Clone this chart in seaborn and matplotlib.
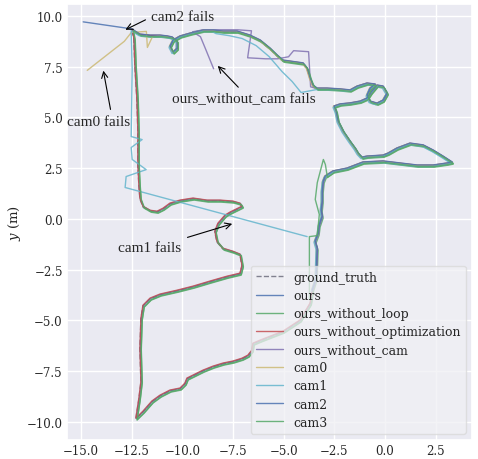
import matplotlib
matplotlib.use("Agg")
import matplotlib.pyplot as plt
import seaborn as sns
import pandas as pd

# ---------------- data (metres) ----------------
# ground-truth path split into segments, in travel order
seg_start = [(-3.60,-3.55),(-3.41,-2.96),(-3.36,-1.48),(-3.46,-1.13),(-3.31,-0.74),(-3.26,-0.34),
             (-3.11,0.10),(-3.16,0.39),(-3.11,0.84),(-3.11,1.33),(-3.06,1.82),(-2.96,2.07),
             (-2.57,2.32),(-1.88,2.46),(-1.09,2.76),(-0.10,2.81),(0.74,2.71),(1.58,2.61),
             (2.37,2.61),(3.06,2.71),(3.31,2.76),(2.86,3.05),(2.37,3.35),(1.88,3.60),
             (1.23,3.69),(0.59,3.45),(0.15,3.20),(-0.10,3.10),(-0.89,3.05),(-1.14,3.00),
             (-1.33,3.20),(-1.48,3.45),(-1.73,3.79),(-2.07,4.29),(-2.32,4.78),(-2.42,5.27),
             (-2.52,5.52),(-2.22,5.62),(-1.73,5.67),(-1.23,5.76),(-0.89,5.91),(-0.69,6.21),
             (-0.40,6.55),(-0.10,6.50),(0.10,6.16),(-0.10,5.81),(-0.40,5.66),(-0.74,5.76),
             (-0.89,6.06),(-0.74,6.40),(-0.49,6.60),(-0.89,6.65),(-1.38,6.50),(-1.73,6.31),
             (-2.22,6.36),(-2.86,6.40),(-3.36,6.40)]
seg_top = [(-3.56,6.55),(-3.70,6.90),(-3.85,7.39),(-4.05,7.64),(-4.69,7.73),(-5.04,7.78),
           (-5.33,8.03),(-5.68,8.37),(-6.17,8.77),(-6.67,9.01),(-7.31,9.21),(-8.00,9.21)]
seg_topleft = [(-8.49,9.26),(-8.99,9.26),(-9.63,9.11),(-10.12,8.97),(-10.47,8.77),(-10.62,8.47),
               (-10.47,8.18),(-10.27,8.37),(-10.27,8.72),(-10.52,8.92),(-10.77,8.97),(-11.11,9.01)]
seg_corner = [(-11.60,9.01),(-12.10,9.06),(-12.35,9.21),(-12.49,9.31)]
seg_left = [(-12.40,8.87),(-12.35,7.54),(-12.25,5.91),(-12.20,4.29),(-12.20,2.61),(-12.15,1.63),
            (-12.10,0.99)]
seg_lower = [(-11.95,0.59),(-11.60,0.39),(-11.26,0.34),(-10.96,0.49),(-10.62,0.74),(-10.12,0.89),
             (-9.48,0.99),(-8.79,0.89),(-8.15,0.89),(-7.51,0.84),(-7.16,0.74),(-7.06,0.59),
             (-7.36,0.44),(-7.65,0.30),(-7.90,0.15),(-8.25,-0.25),(-8.40,-0.64),(-8.30,-1.13),
             (-8.00,-1.48),(-7.51,-1.63),(-7.16,-1.77),(-7.06,-2.32),(-7.16,-2.71),(-7.80,-2.86),
             (-8.64,-3.10),(-9.48,-3.35),(-10.27,-3.55),(-11.11,-3.74),(-11.60,-3.94),(-11.95,-4.29),
             (-12.05,-4.93),(-12.10,-6.40),(-12.05,-8.03),(-12.15,-8.87),(-12.25,-9.51),(-12.30,-9.85),
             (-11.95,-9.51),(-11.51,-9.01),(-11.11,-8.72),(-10.62,-8.47),(-10.12,-8.37),(-9.88,-8.13),
             (-9.78,-7.88),(-9.48,-7.73),(-8.99,-7.49),(-8.49,-7.29),(-8.00,-7.14),(-7.51,-7.04),
             (-7.06,-6.90),(-6.77,-6.75),(-6.57,-6.50),(-6.52,-6.16),(-6.17,-6.01),(-5.04,-5.57),
             (-4.20,-5.02),(-3.70,-4.19),(-3.60,-3.55)]

# parts where single runs leave the path
cam0_tail = [(-11.45,8.95),(-11.70,8.42),(-11.75,9.21),(-12.49,9.16),(-12.84,8.72),(-14.67,7.29)]
cam1_top = [(-4.10,6.26),(-4.54,6.80),(-5.04,7.29),(-5.68,8.03),(-6.32,8.57),(-7.01,8.92),
            (-7.65,9.06),(-8.30,9.16)]
cam1_tail = [(-12.44,7.39),(-12.49,4.09),(-11.95,3.94),(-12.49,3.55),(-12.44,2.96),(-11.75,2.46),
             (-12.74,2.12),(-12.79,1.58),(-3.80,-0.84)]
cam2_tail = [(-14.91,9.66)]
cam3_head = [(-3.80,-3.94),(-3.80,-0.84),(-3.41,-0.79),(-3.31,0.25),(-3.51,0.99),(-3.41,1.82),
             (-3.11,2.96),(-3.01,2.71),(-2.91,2.07)]
nocam_tail = [(-3.70,6.50),(-3.80,8.23),(-4.54,8.28),(-4.79,7.98),(-5.33,7.88),(-5.93,7.88),
              (-6.81,7.93),(-6.62,9.26),(-7.31,9.31),(-8.15,9.31),(-8.99,9.31),(-9.53,9.21),
              (-9.14,8.97),(-8.89,8.37),(-8.49,7.39)]

# small drift of each estimate relative to ground truth (m)
drift = {"ground_truth": (0.0, 0.0), "ours": (0.02, 0.02), "ours_without_loop": (0.06, -0.06),
         "ours_without_optimization": (0.0, 0.04), "ours_without_cam": (0.03, 0.01),
         "cam0": (-0.03, 0.03), "cam1": (-0.04, -0.03), "cam2": (0.01, 0.05), "cam3": (0.07, -0.03)}

full = seg_start + seg_top + seg_topleft + seg_corner + seg_left + seg_lower
runs = {
    "ground_truth": full,
    "ours": full,
    "ours_without_loop": full,
    "ours_without_optimization": full,
    "ours_without_cam": seg_start + nocam_tail,
    "cam0": seg_start + seg_top + seg_topleft + cam0_tail,
    "cam1": seg_start + cam1_top + seg_topleft + seg_corner + cam1_tail,
    "cam2": seg_start + seg_top + seg_topleft + seg_corner + cam2_tail,
    "cam3": cam3_head + seg_start[12:] + seg_top + seg_topleft + seg_corner + seg_left + seg_lower,
}
colors = {"ground_truth": "#6e6e7e", "ours": "#4C72B0", "ours_without_loop": "#55A868",
          "ours_without_optimization": "#C44E52", "ours_without_cam": "#8172B2",
          "cam0": "#CCB974", "cam1": "#64B5CD", "cam2": "#4C72B0", "cam3": "#55A868"}

# ---------------- plot ----------------
sns.set_theme(style="darkgrid")
plt.rcParams["font.family"] = ["DejaVu Serif"]
plt.rcParams["mathtext.fontset"] = "dejavuserif"

fig = plt.figure(figsize=(4.78, 4.60), dpi=100)
ax = fig.add_axes([67/478, 1-441/460, (472-67)/478, (441-5)/460])

for name, pts in runs.items():
    dx, dy = drift[name]
    df = pd.DataFrame(pts, columns=["x", "y"])
    df["x"] += dx
    df["y"] += dy
    sns.lineplot(data=df, x="x", y="y", sort=False, estimator=None, ax=ax,
                 color=colors[name], label=name, lw=1.0, alpha=0.85,
                 linestyle="--" if name == "ground_truth" else "-")

ax.set_xlim(-15.70, 4.30)
ax.set_ylim(-10.89, 10.59)
ax.set_xlabel("")
ax.set_ylabel("$y$ (m)", fontsize=9.5, labelpad=3)
ax.tick_params(labelsize=8.5, length=0, pad=3)

leg = ax.legend(loc="lower right", fontsize=9, handlelength=2.2, labelspacing=0.41,
                framealpha=0.75, facecolor="#f0f0f4", edgecolor="#d8d8d8", fancybox=True)
for h in leg.get_lines():
    h.set_linewidth(1.0)

base = dict(fontsize=11, family="Liberation Serif", ha="center", va="center")
ax.annotate("cam2 fails", xy=(-12.94, 9.26), xytext=(-9.98, 9.95), **base,
            arrowprops=dict(arrowstyle="->", color="black", lw=0.8, relpos=(0.0, 0.5)))
ax.annotate("cam0 fails", xy=(-13.93, 7.44), xytext=(-14.12, 4.78), **base,
            arrowprops=dict(arrowstyle="->", color="black", lw=0.8, relpos=(0.7, 1.0)))
ax.annotate("ours_without_cam fails", xy=(-8.35, 7.64), xytext=(-6.99, 5.91), **base,
            arrowprops=dict(arrowstyle="->", color="black", lw=0.8, relpos=(0.5, 1.0)))
ax.annotate("cam1 fails", xy=(-7.41, -0.20), xytext=(-11.60, -1.43), **base,
            arrowprops=dict(arrowstyle="->", color="black", lw=0.8, relpos=(0.88, 1.0)))

fig.savefig("out.png", dpi=100)
